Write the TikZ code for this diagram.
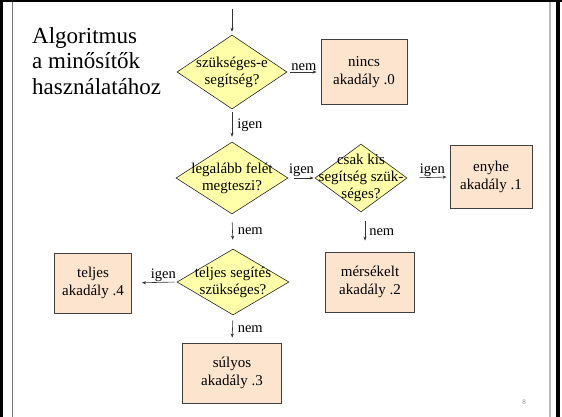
\documentclass[tikz,border=0pt]{standalone}
\usepackage{fontspec}
\setmainfont{Liberation Serif}
\usetikzlibrary{shapes.geometric,arrows.meta}
\definecolor{diafill}{RGB}{255,255,170}
\definecolor{boxfill}{RGB}{253,228,206}
\definecolor{framegray}{RGB}{120,120,120}
\definecolor{lightgray2}{RGB}{185,185,185}
\begin{document}
\begin{tikzpicture}[x=1pt,y=-1pt,
 dia/.style={draw=black!85, fill=diafill, shape=diamond, inner sep=0pt, line width=0.6pt},
 box/.style={draw=black!75, fill=boxfill, line width=0.9pt, inner sep=0pt, align=center,
   font=\fontsize{15}{18}\selectfont, text=black},
 txt/.style={align=center, font=\fontsize{15}{17}\selectfont, inner sep=0pt, text=black},
 lbl/.style={font=\fontsize{14.5}{16}\selectfont, inner sep=1pt, text=black},
 arr/.style={-{Stealth[length=4pt,width=3.2pt]}, line width=0.6pt, draw=black!80}
]
\useasboundingbox (0,0) rectangle (562,417);
% frame
\draw[line width=2pt] (0,1) -- (562,1);
\draw[line width=3pt] (1.5,0) -- (1.5,417);
\draw[line width=4pt] (558,0) -- (558,417);
\draw[framegray, line width=1pt] (12,2) -- (12,417);
\draw[lightgray2, line width=1.5pt] (550,2) -- (550,417);

% title
\node[anchor=north west, align=left, inner sep=0pt, font=\fontsize{23}{25.5}\selectfont, text=black]
  (title) at (32,27) {Algoritmus\\a minősítők\\használatához};

% nodes
\coordinate (start) at (232,9);
\node[dia, minimum width=110pt, minimum height=74pt,
  label={[txt]center:szükséges-e\\segítség?}] (d1) at (232,72) {};
\node[box, minimum width=86pt, minimum height=65pt] (b0) at (364,72) {nincs\\akadály .0};
\node[dia, minimum width=112pt, minimum height=72pt,
  label={[txt]center:legalább felét\\megteszi?}] (d2) at (232,178) {};
\node[dia, minimum width=92pt, minimum height=68pt,
  label={[txt]center:csak kis\\segítség szük-\\séges?}] (d3) at (361,178) {};
\node[box, minimum width=82pt, minimum height=63pt] (b1) at (491,177) {enyhe\\akadály .1};
\node[box, minimum width=89pt, minimum height=60pt] (b2) at (370,282) {mérsékelt\\akadály .2};
\node[dia, minimum width=112pt, minimum height=66pt,
  label={[txt]center:teljes segítés\\szükséges?}] (d4) at (233,282) {};
\node[box, minimum width=77pt, minimum height=60pt] (b4) at (93,283) {teljes\\akadály .4};
\node[box, minimum width=99pt, minimum height=60pt] (b3) at (232,373) {súlyos\\akadály .3};
\coordinate (d3s) at ([xshift=4pt]d3.south);

% connectors
\draw[arr, shorten >=3pt] (start) -- (d1.north);
\draw[arr, shorten <=3pt, shorten >=4pt] (d1.east) -- node[lbl, above] {nem} (b0.west);
\draw[arr, shorten <=3pt, shorten >=5pt] (d1.south) -- node[lbl, right, xshift=4pt] {igen} (d2.north);
\draw[arr, shorten <=6pt, shorten >=1pt] (d2.east) -- node[lbl, above] {igen} (d3.west);
\draw[arr, shorten <=12pt, shorten >=3pt] (d3.east) -- node[lbl, above, xshift=4pt] {igen} (b1.west);
\draw[arr, shorten <=9pt, shorten >=11pt] (d3s) -- node[lbl, right, xshift=3pt] {nem} (d3s |- b2.north);
\draw[arr, shorten <=8pt, shorten >=9pt] (d2.south) -- node[lbl, right, xshift=4pt] {nem} (d4.north);
\draw[arr, shorten <=2pt, shorten >=10pt] (d4.west) -- node[lbl, above, xshift=9pt] {igen} (b4.east);
\draw[arr, shorten <=5pt, shorten >=5pt] (d4.south) -- node[lbl, right, xshift=4pt] {nem} (b3.north);

% page number
\node[font=\fontsize{7}{8}\selectfont, text=black!45, inner sep=0pt] (pg) at (524,402) {8};
\end{tikzpicture}
\end{document}
